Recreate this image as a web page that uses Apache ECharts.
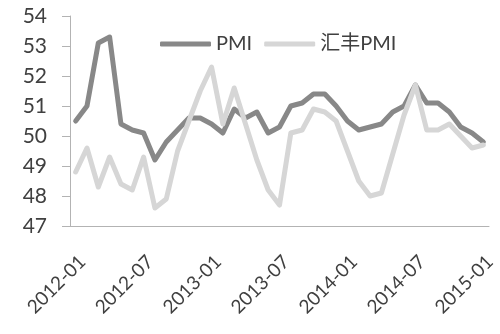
<!DOCTYPE html>
<html>
<head>
<meta charset="utf-8">
<script src="https://cdn.jsdelivr.net/npm/echarts@6/dist/echarts.min.js"></script>
<style>html,body{margin:0;padding:0;background:#fff}#c{width:500px;height:334px}</style>
</head>
<body>
<div id="c"></div>
<script>
const months = [
  '2012-01','2012-02','2012-03','2012-04','2012-05','2012-06','2012-07','2012-08','2012-09','2012-10','2012-11','2012-12',
  '2013-01','2013-02','2013-03','2013-04','2013-05','2013-06','2013-07','2013-08','2013-09','2013-10','2013-11','2013-12',
  '2014-01','2014-02','2014-03','2014-04','2014-05','2014-06','2014-07','2014-08','2014-09','2014-10','2014-11','2014-12',
  '2015-01'
];
const pmi = [
  50.5,51.0,53.1,53.3,50.4,50.2,50.1,49.2,49.8,50.2,50.6,50.6,
  50.4,50.1,50.9,50.6,50.8,50.1,50.3,51.0,51.1,51.4,51.4,51.0,
  50.5,50.2,50.3,50.4,50.8,51.0,51.7,51.1,51.1,50.8,50.3,50.1,
  49.8
];
const hsbcPmi = [
  48.8,49.6,48.3,49.3,48.4,48.2,49.3,47.6,47.9,49.5,50.5,51.5,
  52.3,50.4,51.6,50.4,49.2,48.2,47.7,50.1,50.2,50.9,50.8,50.5,
  49.5,48.5,48.0,48.1,49.4,50.7,51.7,50.2,50.2,50.4,50.0,49.6,
  49.7
];
const seriesNames = ['PMI', '汇丰PMI'];

const font = 'Lato, "Noto Sans CJK SC", sans-serif';
const chart = echarts.init(document.getElementById('c'), null, {renderer: 'canvas'});
chart.setOption({
  animation: false,
  backgroundColor: '#fff',
  grid: {left: 70, right: 11, top: 16, bottom: 108, containLabel: false},
  legend: {
    left: 155, top: 29,
    icon: 'roundRect', itemWidth: 51, itemHeight: 5, itemGap: 12,
    textStyle: {fontFamily: font, fontSize: 20, color: '#404040'},
    data: seriesNames
  },
  xAxis: {
    type: 'category',
    data: months,
    boundaryGap: true,
    axisLine: {lineStyle: {color: '#b3b3b3', width: 1}},
    axisTick: {interval: 5, length: 6, lineStyle: {color: '#b3b3b3'}},
    axisLabel: {
      interval: 5, rotate: 45, margin: 26, verticalAlign: 'top',
      fontFamily: font, fontSize: 19, color: '#404040'
    },
    splitLine: {show: false}
  },
  yAxis: {
    type: 'value', min: 47, max: 54, interval: 1,
    axisLine: {show: true, lineStyle: {color: '#b3b3b3', width: 1}},
    axisTick: {show: true, inside: false, length: 8, lineStyle: {color: '#b3b3b3'}},
    axisLabel: {margin: 23, fontFamily: font, fontSize: 21, color: '#404040'},
    splitLine: {show: false}
  },
  series: [
    {
      name: seriesNames[0], type: 'line', data: pmi, symbol: 'none',
      itemStyle: {color: '#888888'},
      lineStyle: {color: '#888888', width: 5, join: 'round', cap: 'round'}
    },
    {
      name: seriesNames[1], type: 'line', data: hsbcPmi, symbol: 'none',
      itemStyle: {color: '#d6d6d6'},
      lineStyle: {color: '#d6d6d6', width: 5, join: 'round', cap: 'round'}
    }
  ]
});
</script>
</body>
</html>
